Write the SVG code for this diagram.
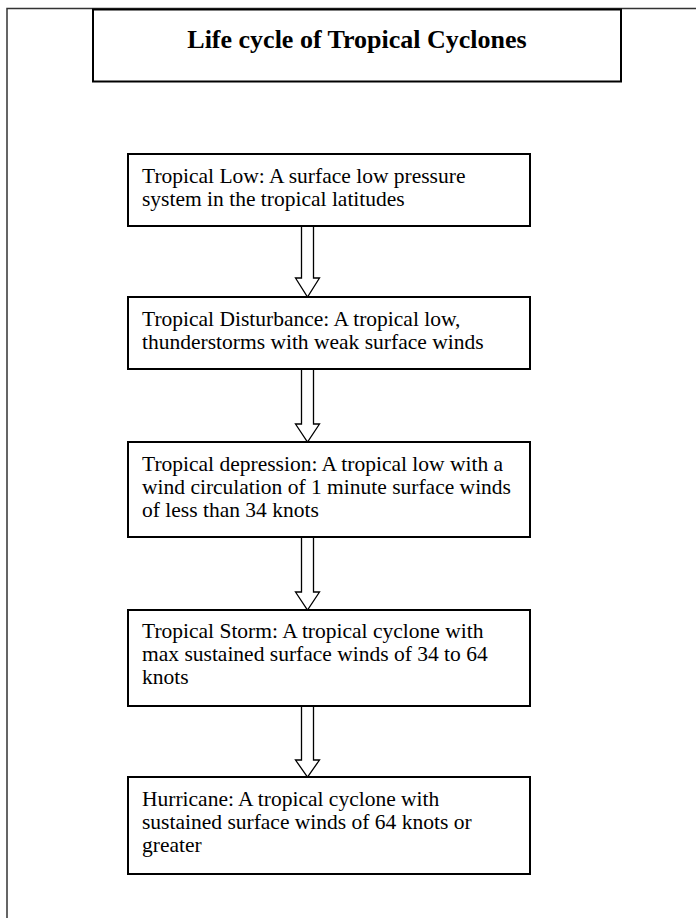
<svg xmlns="http://www.w3.org/2000/svg" width="696" height="918" viewBox="0 0 696 918">
<style>
.frame{fill:none;stroke:#333;stroke-width:1.5}
.box{fill:#fff;stroke:#000;stroke-width:2}
.t{font-family:"Liberation Serif","Times New Roman",serif;font-size:21.5px;fill:#000}
.title{font-family:"Liberation Serif","Times New Roman",serif;font-size:26px;font-weight:bold;fill:#000}
.arr{fill:none;stroke:#000;stroke-width:1.3}
</style>
<rect width="696" height="918" fill="#fff"/>
<path class="frame" d="M7,918 V8.5 H696"/>
<g id="title">
<rect class="box" x="93" y="9.5" width="528" height="72"/>
<text class="title" x="357" y="48" text-anchor="middle">Life cycle of Tropical Cyclones</text>
</g>
<g id="connectors">
<path class="arr" d="M301.5,226 V278 H295.5 L307.5,297 L319.5,278 H313.5 V226"/>
<path class="arr" d="M301.5,369 V424 H295.5 L307.5,442 L319.5,424 H313.5 V369"/>
<path class="arr" d="M301.5,537 V592 H295.5 L307.5,610 L319.5,592 H313.5 V537"/>
<path class="arr" d="M301.5,706 V760 H295.5 L307.5,777 L319.5,760 H313.5 V706"/>
</g>
<g id="n1">
<rect class="box" x="128" y="154" width="402" height="72"/>
<text class="t" x="142" y="183">Tropical Low: A surface low pressure</text>
<text class="t" x="142" y="206">system in the tropical latitudes</text>
</g>
<g id="n2">
<rect class="box" x="128" y="297" width="402" height="72"/>
<text class="t" x="142" y="326">Tropical Disturbance: A tropical low,</text>
<text class="t" x="142" y="349">thunderstorms with weak surface winds</text>
</g>
<g id="n3">
<rect class="box" x="128" y="442" width="402" height="95"/>
<text class="t" x="142" y="471">Tropical depression: A tropical low with a</text>
<text class="t" x="142" y="494">wind circulation of 1 minute surface winds</text>
<text class="t" x="142" y="517">of less than 34 knots</text>
</g>
<g id="n4">
<rect class="box" x="128" y="610" width="402" height="96"/>
<text class="t" x="142" y="638">Tropical Storm: A tropical cyclone with</text>
<text class="t" x="142" y="661">max sustained surface winds of 34 to 64</text>
<text class="t" x="142" y="684">knots</text>
</g>
<g id="n5">
<rect class="box" x="128" y="777" width="402" height="97"/>
<text class="t" x="142" y="806">Hurricane: A tropical cyclone with</text>
<text class="t" x="142" y="829">sustained surface winds of 64 knots or</text>
<text class="t" x="142" y="852">greater</text>
</g>
</svg>
